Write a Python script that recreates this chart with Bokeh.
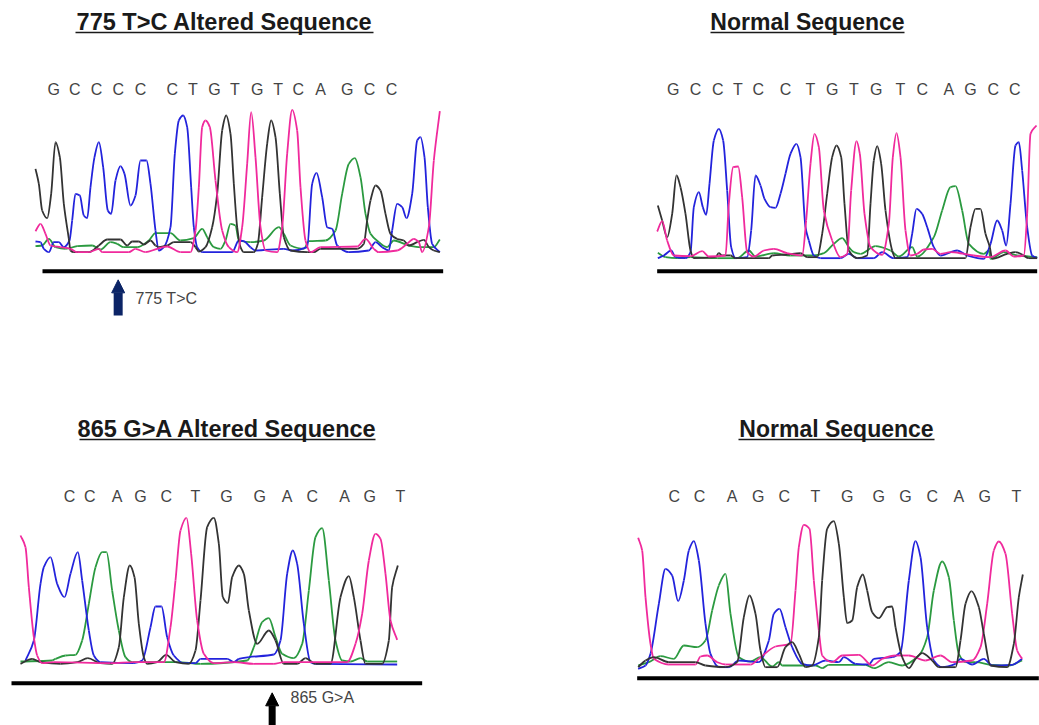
from bokeh.plotting import figure
from bokeh.models import Range1d, Arrow, NormalHead
from bokeh.core.properties import value
from bokeh.embed import file_html
from bokeh.resources import INLINE

# Titles
title_text = ["775 T>C Altered Sequence", "Normal Sequence", "865 G>A Altered Sequence", "Normal Sequence"]
# Called bases
bases_a = list("GCCCCCTGTGTCAGCC")
bases_b = list("GCCTCCTGTGTCAGCC")
bases_c = list("CCAGCTGGACAGT")
bases_d = list("CCAGCTGGGCAGT")
base_pos_a = [100,163,228,293,360,455,517,582,643,710,773,833,900,980,1047,1113]
base_pos_b = [98,165,232,292,353,435,510,575,640,707,780,845,925,990,1058,1123]
base_pos_c = [207,268,350,420,497,585,678,778,860,935,1032,1108,1200]
base_pos_d = [146,222,320,398,476,570,665,760,840,920,1000,1078,1173]

# Trace signals: scan position and intensity above baseline
a_black_x = [45,55,65,80,92,105,118,130,145,150,160,205,235,260,300,320,335,355,370,390,405,415,440,460,510,525,535,555,575,590,605,617,630,640,650,660,670,700,712,725,740,752,765,778,790,810,860,880,900,1010,1030,1040,1050,1065,1080,1095,1110,1130,1150,1165,1190,1210,1225,1240,1258]
a_black_y = [250,205,125,102,175,330,285,145,40,5,0,0,20,38,38,20,32,32,23,35,20,15,20,30,30,15,2,15,75,175,365,410,355,205,75,15,0,0,25,165,325,395,345,175,45,5,0,0,10,10,25,95,155,200,185,115,55,40,35,20,30,37,15,5,0]
a_blue_x = [45,60,70,85,100,115,130,147,155,165,178,190,200,210,222,235,248,262,272,285,300,312,330,345,360,378,390,405,415,430,450,463,475,488,500,512,520,530,545,635,655,670,690,705,790,815,860,875,888,905,920,935,950,985,1045,1065,1085,1105,1115,1130,1145,1158,1175,1190,1200,1212,1222,1235,1258]
a_blue_y = [32,30,10,0,30,30,15,35,95,175,170,110,102,195,285,330,255,125,115,215,258,235,140,170,275,275,205,65,5,15,75,295,395,410,375,195,75,15,0,0,35,33,15,5,10,5,15,205,238,165,75,70,20,0,5,30,15,5,65,145,135,102,175,335,345,285,135,25,0]
a_pink_x = [45,60,75,90,120,150,170,205,235,245,325,345,375,410,440,480,510,525,535,545,555,568,585,605,625,650,665,680,692,705,720,735,770,785,800,815,830,840,855,870,900,1010,1035,1060,1075,1130,1160,1180,1195,1205,1225,1240,1258]
a_pink_y = [63,85,55,20,15,10,0,0,10,0,0,10,0,10,17,0,0,65,195,375,395,375,215,65,15,0,75,265,420,285,75,5,0,75,295,427,365,195,35,0,15,17,40,10,0,5,25,40,30,0,75,275,423]
a_green_x = [45,65,85,105,135,170,215,240,270,290,310,350,385,405,450,480,520,545,560,580,600,615,630,645,655,690,730,775,790,810,850,865,915,945,965,985,1003,1020,1035,1050,1075,1100,1120,1165,1200,1240,1258]
a_green_y = [18,20,40,15,10,18,20,8,30,25,15,15,35,57,57,35,42,70,45,15,10,35,85,80,35,30,35,75,55,20,10,33,35,65,175,265,282,225,115,55,30,15,35,20,15,15,38]

b_black_x = [52,65,80,95,108,120,135,150,160,225,235,245,270,285,385,395,440,480,500,530,545,560,575,588,602,612,625,650,680,690,700,710,722,735,755,765,975,990,1005,1020,1035,1048,1055,1100,1125,1145,1165,1190]
b_black_y = [160,115,65,135,250,215,135,25,2,5,17,10,10,2,2,10,13,17,5,5,75,195,305,340,305,165,25,2,10,165,295,338,285,145,25,2,2,95,150,150,75,35,0,15,20,13,2,2]
b_blue_x = [52,70,92,105,135,150,160,175,187,197,207,220,235,248,260,272,285,320,332,345,360,372,390,405,420,435,450,468,480,495,505,520,540,600,625,650,700,725,760,800,815,828,845,860,880,900,950,980,1030,1050,1070,1085,1097,1110,1125,1135,1145,1160,1175,1190]
b_blue_y = [2,10,25,5,2,20,155,200,155,132,225,355,390,355,205,35,2,5,85,250,220,180,155,153,195,255,315,345,305,95,55,10,2,2,15,2,2,20,2,5,75,150,135,95,35,10,25,10,0,45,115,85,40,165,340,350,265,95,10,2]
b_pink_x = [50,65,80,100,150,185,205,255,265,278,293,305,320,340,370,400,440,485,497,510,522,535,550,575,600,620,632,648,658,672,690,725,745,757,768,780,795,810,830,850,875,900,930,970,1000,1050,1095,1120,1150,1160,1170,1188]
b_pink_y = [82,113,55,10,8,23,7,10,165,275,277,185,20,7,25,30,17,10,115,285,375,335,145,55,5,15,205,353,315,135,35,12,105,305,377,305,85,10,15,28,30,15,20,15,10,5,25,7,10,135,375,400]
b_green_x = [52,75,110,150,230,290,325,345,400,450,520,550,580,605,625,640,660,705,750,775,815,830,880,905,930,945,965,985,1030,1045,1050,1090,1130,1190]
b_green_y = [18,5,2,5,2,2,25,7,17,10,10,17,45,62,35,20,15,38,25,7,35,7,65,145,215,218,145,45,15,25,0,20,10,5]

c_pink_x = [60,75,85,100,110,125,160,330,400,490,510,525,540,558,572,590,610,640,700,760,820,850,1040,1065,1085,1105,1125,1140,1155,1170,1190]
c_pink_y = [385,350,230,80,25,2,5,2,5,5,110,250,400,438,330,130,30,2,5,0,0,5,5,60,150,310,390,375,270,130,72]
c_blue_x = [75,100,120,130,150,170,192,210,232,245,265,280,300,400,425,450,465,483,500,520,550,585,600,680,700,715,745,820,840,860,877,890,910,930,945,1190]
c_blue_y = [10,70,240,290,320,240,200,270,335,250,100,25,5,2,10,110,172,172,80,25,2,2,15,15,5,15,20,28,70,270,340,300,120,5,0,-2]
c_green_x = [60,155,165,195,225,245,265,285,305,318,335,355,375,395,470,530,600,740,760,785,805,825,845,880,905,925,945,965,985,1005,1025,1050,1080,1100,1190]
c_green_y = [7,10,15,25,27,70,180,290,335,335,220,100,20,5,5,5,0,10,50,125,137,80,30,17,60,220,380,407,250,70,10,7,17,7,7]
c_black_x = [60,95,120,180,230,262,300,335,355,370,388,402,415,430,440,470,497,525,565,585,600,620,640,655,667,682,695,715,730,745,770,805,825,850,890,915,945,990,1020,1045,1060,1080,1095,1145,1165,1175,1192]
c_black_y = [0,15,5,0,5,17,2,0,50,200,295,260,120,20,0,5,27,5,0,40,190,410,438,360,200,182,260,295,270,160,60,100,70,0,0,17,0,0,200,263,200,70,0,0,70,230,295]

d_pink_x = [38,50,60,75,85,130,210,225,245,275,300,375,400,450,495,510,520,535,552,565,580,590,620,650,700,740,770,810,850,900,945,980,1040,1065,1085,1105,1120,1140,1160,1175,1190]
d_pink_y = [388,350,210,70,25,8,8,32,35,15,8,8,25,62,70,230,360,427,415,260,110,35,15,35,37,5,25,35,35,20,35,15,20,60,190,350,377,340,160,50,25]
d_blue_x = [38,60,75,100,120,140,158,175,190,205,220,240,255,280,310,340,400,430,445,462,480,500,530,560,600,640,655,690,730,745,800,825,850,870,885,905,925,950,990,1005,1040,1075,1100,1160,1190]
d_blue_y = [-5,5,40,190,295,275,198,260,350,378,320,130,40,0,0,20,15,80,160,175,120,60,10,5,20,15,30,10,8,25,30,45,260,378,330,120,20,0,10,25,8,25,5,7,25]
d_green_x = [38,70,105,145,175,215,240,260,280,300,315,340,375,405,440,460,470,570,590,610,720,745,790,830,880,905,925,950,970,985,1000,1020,1050,1100,1150,1190]
d_green_y = [5,15,33,25,65,60,80,170,245,280,160,30,17,30,2,15,5,5,-3,7,7,-3,15,5,35,90,230,317,270,140,40,15,15,7,5,20]
d_black_x = [38,60,85,130,210,240,300,335,355,372,390,405,420,455,480,500,520,540,560,580,590,605,625,640,655,665,680,695,712,725,740,760,785,800,810,830,850,870,890,920,940,990,1005,1020,1038,1060,1075,1095,1145,1165,1180,1192]
d_black_y = [0,20,30,15,15,5,0,15,150,215,160,50,0,0,60,75,40,0,5,90,260,415,438,370,210,132,140,240,278,230,165,147,180,182,120,30,-3,25,42,20,0,0,80,190,228,180,100,5,0,70,210,278]

BLUE, PINK, GREEN, BLACK = "#2323dc", "#f02a9c", "#2b9a40", "#333333"
FONT = "Liberation Sans"
W, H, SCALE = 1039, 725, 3

p = figure(width=W, height=H, x_range=Range1d(0, W), y_range=Range1d(H, 0),
           output_backend="svg", toolbar_location=None, min_border=0,
           x_axis_location=None, y_axis_location=None, outline_line_color=None)
p.grid.visible = False


def draw_trace(xs, ys, col, name):
    """Draw the read points as a monotone curve, so that peaks stay round and nothing overshoots."""
    slopes = [(ys[i + 1] - ys[i]) / (xs[i + 1] - xs[i]) for i in range(len(xs) - 1)]
    tan = [slopes[0]]
    for i in range(1, len(xs) - 1):
        a, b = slopes[i - 1], slopes[i]
        tan.append(0.0 if a * b <= 0 else 2 * a * b / (a + b))
    tan.append(slopes[-1])
    x0, y0, x1, y1, cx0, cy0, cx1, cy1 = [], [], [], [], [], [], [], []
    for i in range(len(xs) - 1):
        d = (xs[i + 1] - xs[i]) / 3
        x0.append(xs[i]); y0.append(ys[i]); x1.append(xs[i + 1]); y1.append(ys[i + 1])
        cx0.append(xs[i] + d); cy0.append(ys[i] + tan[i] * d)
        cx1.append(xs[i + 1] - d); cy1.append(ys[i + 1] - tan[i + 1] * d)
    p.bezier(x0, y0, x1, y1, cx0, cy0, cx1, cy1, line_color=col, line_width=1.8,
             x_range_name=name, y_range_name=name)


panels = [
    ("a", 20, 70, 545, bases_a, base_pos_a, 487, (66, 1268, -57),
     [(a_green_x, a_green_y, GREEN), (a_blue_x, a_blue_y, BLUE), (a_black_x, a_black_y, BLACK), (a_pink_x, a_pink_y, PINK)]),
    ("b", 640, 70, 565, bases_b, base_pos_b, 507, (50, 1190, -37),
     [(b_green_x, b_green_y, GREEN), (b_blue_x, b_blue_y, BLUE), (b_black_x, b_black_y, BLACK), (b_pink_x, b_pink_y, PINK)]),
    ("c", 0, 480, 550, bases_c, base_pos_c, 503, (33, 1265, -58),
     [(c_green_x, c_green_y, GREEN), (c_blue_x, c_blue_y, BLUE), (c_black_x, c_black_y, BLACK), (c_pink_x, c_pink_y, PINK)]),
    ("d", 625, 480, 560, bases_d, base_pos_d, 513, (35, 1240, -33),
     [(d_green_x, d_green_y, GREEN), (d_blue_x, d_blue_y, BLUE), (d_pink_x, d_pink_y, PINK), (d_black_x, d_black_y, BLACK)]),
]

for name, ox, oy, base, letters, pos, letter_h, bar, traces in panels:
    p.extra_x_ranges[name] = Range1d(-ox * SCALE, (W - ox) * SCALE)
    p.extra_y_ranges[name] = Range1d(base - (H - oy) * SCALE, base + oy * SCALE)
    for xs, ys, col in traces:
        draw_trace(xs, ys, col, name)
    p.text(pos, [letter_h] * len(pos), text=letters, text_align="center", text_baseline="middle",
           text_font=value(FONT), text_font_size="16px", text_color="#444444",
           x_range_name=name, y_range_name=name)
    p.segment([bar[0]], [bar[2]], [bar[1]], [bar[2]], line_color="#000000", line_width=4,
              x_range_name=name, y_range_name=name)

# Panel titles with their underlines
title_x = [224, 807, 227, 836]
title_y = [21, 21, 428, 428]
title_half = [149, 97, 148, 98]
title_size = ["23.5px", "23px", "23.5px", "23px"]
p.text(title_x, title_y, text=title_text, text_align="center", text_baseline="middle",
       text_font=value(FONT), text_font_size=title_size, text_font_style="bold", text_color="#1a1a1a")
p.segment([x - w for x, w in zip(title_x, title_half)], [y + 11 for y in title_y],
          [x + w for x, w in zip(title_x, title_half)], [y + 11 for y in title_y],
          line_color="#1a1a1a", line_width=1.5)

# Mutation markers
p.add_layout(Arrow(end=NormalHead(size=13, fill_color="#0b2466", line_color="#0b2466"),
                   x_start=293, y_start=-190, x_end=293, y_end=-83, line_color="#0b2466", line_width=9,
                   x_range_name="a", y_range_name="a"))
p.add_layout(Arrow(end=NormalHead(size=13, fill_color="#000000", line_color="#000000"),
                   x_start=815, y_start=-200, x_end=815, y_end=-87, line_color="#000000", line_width=7,
                   x_range_name="c", y_range_name="c"))
p.text([135], [298], text=["775 T>C"], text_baseline="middle", text_font=value(FONT),
       text_font_size="16px", text_color="#444444")
p.text([290], [697], text=["865 G>A"], text_baseline="middle", text_font=value(FONT),
       text_font_size="16px", text_color="#444444")

open("out.html", "w").write(file_html(p, INLINE))
